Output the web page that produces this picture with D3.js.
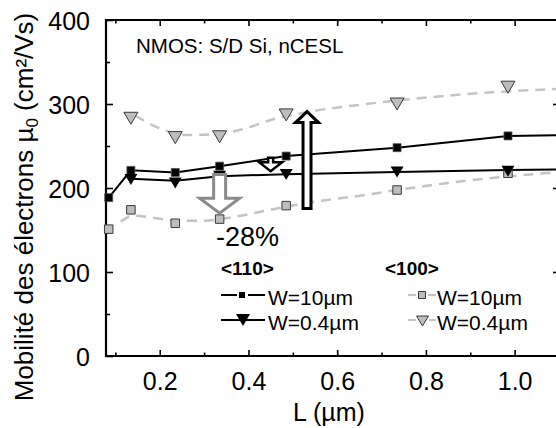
<!DOCTYPE html>
<html><head><meta charset="utf-8">
<script src="https://cdn.jsdelivr.net/npm/d3@7"></script>
<style>
body{margin:0;background:#fff;}
svg{display:block;font-family:"Liberation Sans",Arial,sans-serif;}
</style></head>
<body><svg id="c" width="556" height="428"></svg>
<script>
// ---- data ----
const gateL = [0.085, 0.135, 0.235, 0.335, 0.485, 0.735, 0.985];
const mu110W10 = [188.5, 221, 218.5, 226, 238, 248, 262];
const L110W04 = [0.135, 0.235, 0.335, 0.485, 0.735, 0.985];
const mu110W04 = [210, 206, 214, 216, 219, 220];
const mu100W10 = [151, 174, 158, 163, 179, 197.6, 217.5];
const L100W04 = [0.135, 0.235, 0.335, 0.485, 0.735, 0.985];
const mu100W04 = [283, 260, 261, 287, 300, 320];
// traced guide curves
const fitL110W10 = [0.085, 0.135, 0.235, 0.335, 0.485, 0.735, 0.985, 1.1];
const fitMu110W10 = [188.5, 221, 218.5, 226, 238, 248, 262, 263];
const fitL110W04 = [0.135, 0.235, 0.335, 0.485, 0.735, 0.985, 1.1];
const fitMu110W04 = [211, 208.5, 214, 216.5, 219, 221.5, 222];
const fitL100W10 = [0.112, 0.14, 0.18, 0.24, 0.3, 0.36, 0.44, 0.54, 0.64, 0.74, 0.85, 0.97, 1.1];
const fitMu100W10 = [160, 167, 165, 161, 161, 165, 173, 183, 190, 198, 206, 213, 219];
const fitL100W04 = [0.145, 0.2, 0.26, 0.34, 0.4, 0.45, 0.5, 0.55, 0.65, 0.75, 0.85, 0.95, 1.1];
const fitMu100W04 = [286, 271, 263, 265, 272, 281, 287, 292, 299, 305, 310, 314, 318];
const xTicks = [0.2, 0.4, 0.6, 0.8, 1.0];
const yTicks = [0, 100, 200, 300, 400];

const svg = d3.select("#c");
const x = d3.scaleLinear().domain([0.08, 1.1]).range([106.5, 559]);
const y = d3.scaleLinear().domain([0, 400]).range([356, 20]);
const FONT = '"Liberation Sans",Arial,sans-serif';

// ---- frame ----
const frame = svg.append("g");
frame.append("line").attr("x1",106).attr("x2",561).attr("y1",20).attr("y2",20).attr("stroke","#000").attr("stroke-width",2);
frame.append("line").attr("x1",106).attr("x2",561).attr("y1",356).attr("y2",356).attr("stroke","#000").attr("stroke-width",2.2);
frame.append("line").attr("x1",106).attr("x2",106).attr("y1",19).attr("y2",357).attr("stroke","#000").attr("stroke-width",2.2);

// bottom & top axes (ticks inward)
const xMinor = d3.range(0.1, 1.11, 0.1).map(v=>+v.toFixed(2)).filter(v=>!xTicks.some(t=>Math.abs(t-v)<1e-6));
const bAxis = d3.axisBottom(x).tickValues(xTicks).tickFormat(d3.format(".1f")).tickSizeInner(-6).tickSizeOuter(0).tickPadding(16);
const gb = svg.append("g").attr("transform","translate(0,356)").call(bAxis);
gb.select(".domain").remove();
gb.selectAll(".tick line").attr("stroke-width",1.6);
gb.selectAll("text").attr("font-size",25).attr("font-family",FONT).attr("fill","#000").attr("dy","0.71em");
const gbm = svg.append("g").attr("transform","translate(0,356)").call(d3.axisBottom(x).tickValues(xMinor).tickSizeInner(-3.5).tickSizeOuter(0).tickFormat(""));
gbm.select(".domain").remove(); gbm.selectAll(".tick line").attr("stroke-width",1.6);
const gt = svg.append("g").attr("transform","translate(0,20)").call(d3.axisTop(x).tickValues(xTicks).tickSizeInner(-6).tickSizeOuter(0).tickFormat(""));
gt.select(".domain").remove(); gt.selectAll(".tick line").attr("stroke-width",1.6);
const gtm = svg.append("g").attr("transform","translate(0,20)").call(d3.axisTop(x).tickValues(xMinor).tickSizeInner(-3.5).tickSizeOuter(0).tickFormat(""));
gtm.select(".domain").remove(); gtm.selectAll(".tick line").attr("stroke-width",1.6);

// left & right axes
const yMinor = [50,150,250,350];
const lAxis = d3.axisLeft(y).tickValues(yTicks).tickSizeInner(-7).tickSizeOuter(0).tickPadding(16);
const gl = svg.append("g").attr("transform","translate(106,0)").call(lAxis);
gl.select(".domain").remove();
gl.selectAll(".tick line").attr("stroke-width",1.6);
gl.selectAll("text").attr("font-size",25).attr("font-family",FONT).attr("fill","#000").attr("dy","0.36em");
const glm = svg.append("g").attr("transform","translate(106,0)").call(d3.axisLeft(y).tickValues(yMinor).tickSizeInner(-4).tickSizeOuter(0).tickFormat(""));
glm.select(".domain").remove(); glm.selectAll(".tick line").attr("stroke-width",1.6);
const gr = svg.append("g").attr("transform","translate(560,0)").call(d3.axisRight(y).tickValues([100,200,300]).tickSizeInner(-7).tickSizeOuter(0).tickFormat(""));
gr.select(".domain").remove(); gr.selectAll(".tick line").attr("stroke-width",1.6);

// axis titles
svg.append("text").attr("x",329).attr("y",421).attr("text-anchor","middle").attr("font-size",25).attr("font-family",FONT).text("L (µm)");
const yt = svg.append("text").attr("transform","translate(33,207) rotate(-90)").attr("text-anchor","middle").attr("font-size",26).attr("font-family",FONT);
yt.append("tspan").text("Mobilité des électrons µ");
yt.append("tspan").attr("font-size",17).attr("dy",5).text("0");
yt.append("tspan").attr("dy",-5).text(" (cm²/Vs)");

// ---- curves ----
const zip = (a,b)=>a.map((v,i)=>[v,b[i]]);
const smooth = d3.line().x(d=>x(d[0])).y(d=>y(d[1])).curve(d3.curveMonotoneX);
const straight = d3.line().x(d=>x(d[0])).y(d=>y(d[1]));
const curves = svg.append("g");
curves.append("path").datum(zip(fitL100W10,fitMu100W10)).attr("d",smooth).attr("fill","none").attr("stroke","#c4c4c4").attr("stroke-width",2.5).attr("stroke-dasharray","10,7");
curves.append("path").datum(zip(fitL100W04,fitMu100W04)).attr("d",smooth).attr("fill","none").attr("stroke","#c4c4c4").attr("stroke-width",2.5).attr("stroke-dasharray","10,7");
curves.append("path").datum(zip(fitL110W10,fitMu110W10)).attr("d",straight).attr("fill","none").attr("stroke","#000").attr("stroke-width",2);
curves.append("path").datum(zip(fitL110W04,fitMu110W04)).attr("d",straight).attr("fill","none").attr("stroke","#000").attr("stroke-width",2);

// ---- markers ----
const triPath = (w,h)=>`M${-w/2},${-h/2}L${w/2},${-h/2}L0,${h/2}Z`;
const sqPath = s=>`M${-s/2},${-s/2}h${s}v${s}h${-s}Z`;
const mk = svg.append("g");
mk.selectAll(".gs").data(zip(gateL,mu100W10)).join("path").attr("d",sqPath(8.5))
  .attr("transform",d=>`translate(${x(d[0])},${y(d[1])})`).attr("fill","#bdbdbd").attr("stroke","#3a3a3a").attr("stroke-width",1);
mk.selectAll(".gt").data(zip(L100W04,mu100W04)).join("path").attr("d",triPath(14,12))
  .attr("transform",d=>`translate(${x(d[0])},${y(d[1])})`).attr("fill","#bdbdbd").attr("stroke","#3a3a3a").attr("stroke-width",1);
mk.selectAll(".bs").data(zip(gateL,mu110W10)).join("path").attr("d",sqPath(8))
  .attr("transform",d=>`translate(${x(d[0])},${y(d[1])})`).attr("fill","#000").attr("stroke","#555").attr("stroke-width",0.8);
mk.selectAll(".bt").data(zip(L110W04,mu110W04)).join("path").attr("d",triPath(13,11))
  .attr("transform",d=>`translate(${x(d[0])},${y(d[1])})`).attr("fill","#000");

// ---- arrows ----
function arrow(cx, yTail, yTip, shaftW, headW, headH){
  const s = yTip > yTail ? 1 : -1;
  const yb = yTip - s*headH;
  return `M${cx-shaftW/2},${yTail}L${cx-shaftW/2},${yb}L${cx-headW/2},${yb}L${cx},${yTip}L${cx+headW/2},${yb}L${cx+shaftW/2},${yb}L${cx+shaftW/2},${yTail}Z`;
}
const ar = svg.append("g");
ar.append("path").attr("d",arrow(x(0.335), y(216), y(170), 12, 40, 15)).attr("fill","#fff").attr("stroke","#8a8a8a").attr("stroke-width",3).attr("stroke-linejoin","miter");
ar.append("path").attr("d",arrow(x(0.45), y(236), y(220), 5, 23, 9)).attr("fill","#fff").attr("stroke","#000").attr("stroke-width",2.5).attr("stroke-linejoin","miter");
ar.append("path").attr("d",arrow(x(0.532), y(175.5), y(291), 8, 23, 11)).attr("fill","#fff").attr("stroke","#000").attr("stroke-width",3).attr("stroke-linejoin","miter");

// ---- texts ----
svg.append("text").attr("x",136).attr("y",53).attr("font-size",20.5).attr("font-family",FONT).text("NMOS: S/D Si, nCESL");
svg.append("text").attr("x",216).attr("y",246).attr("font-size",27).attr("font-family",FONT).text("-28%");

// ---- legend ----
const lg = svg.append("g").attr("font-family",FONT);
lg.append("text").attr("x",221).attr("y",275).attr("font-size",19).attr("font-weight","bold").text("<110>");
lg.append("text").attr("x",385).attr("y",275).attr("font-size",19).attr("font-weight","bold").text("<100>");
// row 1 col 1
lg.append("line").attr("x1",221).attr("x2",237).attr("y1",295).attr("y2",295).attr("stroke","#000").attr("stroke-width",2);
lg.append("line").attr("x1",248).attr("x2",265).attr("y1",295).attr("y2",295).attr("stroke","#000").attr("stroke-width",2);
lg.append("path").attr("d",sqPath(6)).attr("transform","translate(242,295)").attr("fill","#000");
lg.append("text").attr("x",268).attr("y",305).attr("font-size",21).text("W=10µm");
// row 2 col 1
lg.append("line").attr("x1",221).attr("x2",265).attr("y1",320).attr("y2",320).attr("stroke","#000").attr("stroke-width",2);
lg.append("path").attr("d",triPath(14,12)).attr("transform","translate(243,320)").attr("fill","#000");
lg.append("text").attr("x",268).attr("y",330).attr("font-size",21).text("W=0.4µm");
// row 1 col 2
lg.append("line").attr("x1",408).attr("x2",416).attr("y1",295).attr("y2",295).attr("stroke","#c4c4c4").attr("stroke-width",2.2);
lg.append("line").attr("x1",428).attr("x2",436).attr("y1",295).attr("y2",295).attr("stroke","#c4c4c4").attr("stroke-width",2.2);
lg.append("path").attr("d",sqPath(7)).attr("transform","translate(422,295)").attr("fill","#bdbdbd").attr("stroke","#3a3a3a").attr("stroke-width",1);
lg.append("text").attr("x",437).attr("y",305).attr("font-size",21).text("W=10µm");
// row 2 col 2
lg.append("line").attr("x1",408).attr("x2",416).attr("y1",320).attr("y2",320).attr("stroke","#c4c4c4").attr("stroke-width",2.2);
lg.append("line").attr("x1",429).attr("x2",436).attr("y1",320).attr("y2",320).attr("stroke","#c4c4c4").attr("stroke-width",2.2);
lg.append("path").attr("d",triPath(12,10)).attr("transform","translate(422.5,321)").attr("fill","#bdbdbd").attr("stroke","#3a3a3a").attr("stroke-width",1);
lg.append("text").attr("x",437).attr("y",330).attr("font-size",21).text("W=0.4µm");
</script></body></html>
